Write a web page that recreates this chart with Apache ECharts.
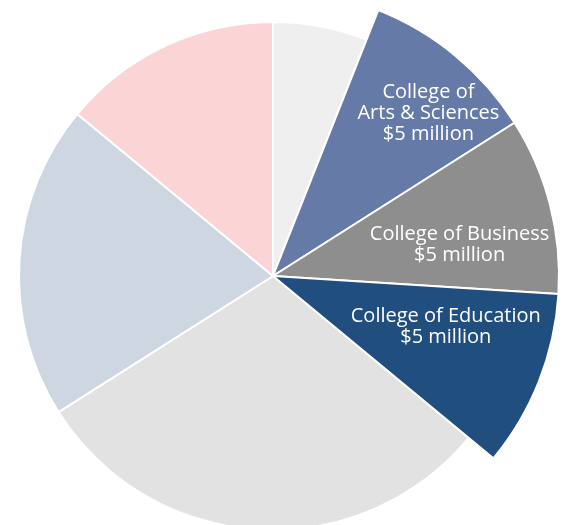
<!DOCTYPE html>
<html>
<head>
<meta charset="utf-8">
<style>
  html, body { margin: 0; padding: 0; background: #ffffff; }
  #chart { width: 565px; height: 525px; }
</style>
<script src="https://cdn.jsdelivr.net/npm/echarts@6/dist/echarts.min.js"></script>
</head>
<body>
<div id="chart"></div>
<script>
// Gift amounts in $ millions, clockwise from 12 o'clock
const categories = ['Other A', 'College of Arts & Sciences', 'College of Business', 'College of Education', 'Other B', 'Other C', 'Other D'];
const values = [3, 5, 5, 5, 15, 10, 7];
const labelLines = [null, ['College of', 'Arts & Sciences'], ['College of Business'], ['College of Education'], null, null, null];
const highlighted = [false, true, true, true, false, false, false];
const colors = ['#efefef', '#657aa6', '#8e8e8e', '#1f4e7f', '#e2e2e2', '#cdd6e1', '#fbd5d5'];

// small nudges so each label sits where it reads best inside its wedge
const labelNudge = [[0, 0], [26, -6], [-10, 19], [-16, -24], [0, 0], [0, 0], [0, 0]];

const center = [273, 276];

const baseData = categories.map((name, i) => ({
  name, value: values[i],
  itemStyle: { color: colors[i] }
}));

const raisedData = categories.map((name, i) => ({
  name, value: values[i],
  itemStyle: highlighted[i]
    ? { color: colors[i], borderColor: '#ffffff', borderWidth: 2 }
    : { color: 'transparent', borderWidth: 0 }
}));

const labelData = categories.map((name, i) => ({
  name, value: values[i],
  itemStyle: { color: 'transparent', borderWidth: 0 },
  label: { show: highlighted[i] }
}));

const chart = echarts.init(document.getElementById('chart'), null, { renderer: 'canvas' });

chart.setOption({
  animation: false,
  series: [
    {
      type: 'pie',
      center: center,
      radius: [0, 254],
      startAngle: 90,
      clockwise: true,
      silent: true,
      label: { show: false },
      labelLine: { show: false },
      emphasis: { disabled: true },
      itemStyle: { borderColor: '#ffffff', borderWidth: 2 },
      data: baseData
    },
    {
      type: 'pie',
      center: center,
      radius: [0, 286],
      startAngle: 90,
      clockwise: true,
      silent: true,
      label: { show: false },
      labelLine: { show: false },
      emphasis: { disabled: true },
      data: raisedData
    },
    {
      type: 'pie',
      center: center,
      radius: [150, 250],
      startAngle: 90,
      clockwise: true,
      silent: true,
      labelLine: { show: false },
      emphasis: { disabled: true },
      label: {
        show: true,
        position: 'inside',
        color: '#ffffff',
        fontFamily: 'Open Sans',
        fontSize: 20,
        lineHeight: 21,
        align: 'center',
        formatter: (p) => {
          const lines = labelLines[p.dataIndex];
          if (!lines) return '';
          return lines.concat('$' + p.value + ' million').join('\n');
        }
      },
      labelLayout: (p) => ({
        dx: labelNudge[p.dataIndex][0],
        dy: labelNudge[p.dataIndex][1]
      }),
      data: labelData
    }
  ]
});
</script>
</body>
</html>
